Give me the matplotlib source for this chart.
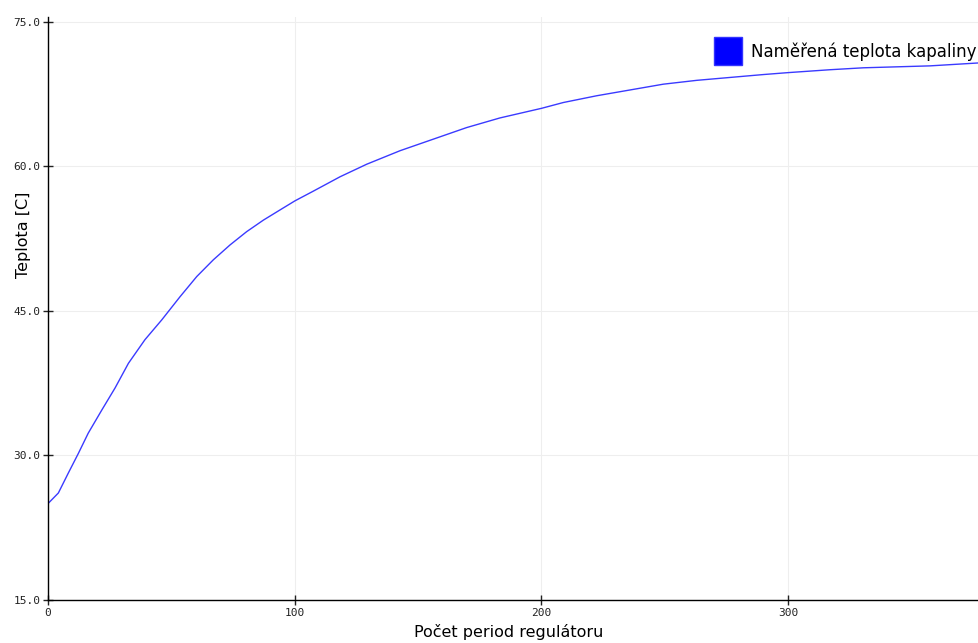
import matplotlib
matplotlib.use("Agg")
import matplotlib.pyplot as plt
from matplotlib.lines import Line2D

# Data
periods = [0, 4.2, 8.2, 12.3, 16.3, 21.8, 27.2, 32.6, 39.3, 46.1, 53.5, 60.3, 67.0, 73.8,
           80.5, 87.3, 94.0, 100.1, 107.5, 118.4, 129.2, 142.7, 156.2, 169.7, 183.2,
           200.1, 208.9, 222.4, 235.9, 249.4, 263, 276.5, 290, 300, 317, 330.5, 344,
           357.5, 377]
temps = [25.0, 26.1, 28.15, 30.2, 32.3, 34.7, 37.0, 39.55, 42.0, 44.05, 46.45, 48.55, 50.28,
         51.83, 53.2, 54.4, 55.45, 56.4, 57.4, 58.9, 60.2, 61.6, 62.8, 64.0, 65.0,
         66.0, 66.6, 67.3, 67.9, 68.5, 68.9, 69.2, 69.5, 69.7, 70.0, 70.2, 70.3,
         70.4, 70.7]
x_ticks = [0, 100, 200, 300]
y_ticks = [15, 30, 45, 60, 75]
y_tick_labels = ["15.0", "30.0", "45.0", "60.0", "75.0"]
series_label = "Naměřená teplota kapaliny"
x_label = "Počet period regulátoru"
y_label = "Teplota [C]"

W, H = 979, 643
fig = plt.figure(figsize=(W / 100, H / 100), dpi=100)
left, right = 48, 979
bottom_px, top_px = 600, 16.7
ax_w, ax_h = right - left, bottom_px - top_px
ax = fig.add_axes([left / W, (H - bottom_px) / H, ax_w / W, ax_h / H])

ax.plot(periods, temps, color="#3a3aff", lw=1.0)

ax.set_xlim(0, (979 - 48) / 2.467)
ax.set_ylim(15, 75.5)

ax.set_xticks(x_ticks)
ax.set_xticklabels([str(t) for t in x_ticks], fontfamily="DejaVu Sans Mono", fontsize=8)
ax.set_yticks(y_ticks)
ax.set_yticklabels(y_tick_labels, fontfamily="DejaVu Sans Mono", fontsize=8)
ax.tick_params(direction="inout", length=7, width=1, pad=2, colors="#222222")

for s in ["top", "right"]:
    ax.spines[s].set_visible(False)
for s in ["left", "bottom"]:
    ax.spines[s].set_color("black")
    ax.spines[s].set_linewidth(1.0)

ax.grid(True, color="#eeeeee", lw=0.8)
ax.set_axisbelow(True)

ax.set_xlabel(x_label, fontsize=11.5, fontfamily="DejaVu Sans", va="center")
ax.xaxis.set_label_coords((508.5 - left) / ax_w, (bottom_px - 632) / ax_h)
ax.set_ylabel(y_label, fontsize=11.5, fontfamily="DejaVu Sans", va="center")
ax.yaxis.set_label_coords((23.5 - left) / ax_w, (bottom_px - 235) / ax_h)

handle = Line2D([], [], marker="s", markersize=19.5, color="blue", linestyle="none",
                markeredgecolor="#3333ff")
leg = ax.legend([handle], [series_label], loc="center right", frameon=False,
                bbox_to_anchor=(977 / W, (H - 52) / H), bbox_transform=fig.transFigure,
                fontsize=12, handletextpad=0.6, borderpad=0, borderaxespad=0,
                handlelength=1.62)

fig.savefig("out.png", dpi=100)
